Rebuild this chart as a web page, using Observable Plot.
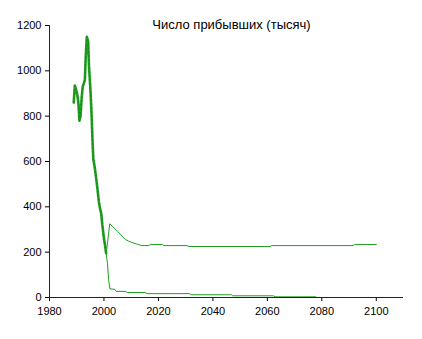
<!DOCTYPE html>
<html>
<head>
<meta charset="utf-8">
<script src="https://cdn.jsdelivr.net/npm/d3@7"></script>
<script src="https://cdn.jsdelivr.net/npm/@observablehq/plot@0.6"></script>
<style>
  html, body { margin: 0; padding: 0; background: #fff; }
  #chart svg { display: block; }
</style>
</head>
<body>
<div id="chart"></div>
<script>
const title = "Число прибывших (тысяч)";
const xTicks = [1980, 2000, 2020, 2040, 2060, 2080, 2100];
const yTicks = [0, 200, 400, 600, 800, 1000, 1200];

// Historical series (thick line)
const histYears = [1988.9, 1989.3, 1989.7, 1990.2, 1990.6, 1991.0, 1991.4, 1991.8, 1992.2, 1992.6, 1993.0, 1993.3, 1993.7, 1994.2, 1994.5, 1995.0, 1995.4, 1995.8, 1996.1, 1996.6, 1997.1, 1997.6, 1998.1, 1998.6, 1999.0, 1999.4, 2000.0, 2000.4, 2000.8];
const histValues = [860, 935, 920, 895, 860, 780, 800, 880, 930, 945, 960, 1060, 1150, 1130, 1020, 925, 825, 690, 610, 575, 530, 480, 425, 390, 370, 320, 260, 230, 195];

// Upper projection (thin line)
const upYears = [2000.8, 2001.3, 2002.1, 2003, 2004, 2005, 2006, 2007, 2008, 2009, 2010, 2011, 2012, 2013, 2014, 2016.5, 2017, 2021.5, 2022, 2030.5, 2031, 2061, 2061.5, 2091.5, 2092, 2100];
const upValues = [195, 240, 325, 315, 303, 292, 280, 266, 255, 249, 244, 240, 236, 232, 229, 229, 234, 234, 229, 229, 225, 225, 229, 229, 234, 234];

// Lower projection (thin line)
const lowYears = [2000.8, 2001.3, 2001.7, 2002.2, 2004, 2004.5, 2008, 2008.5, 2015.2, 2015.8, 2031.5, 2032, 2046.8, 2047.3, 2062.3, 2062.8, 2077.8];
const lowValues = [195, 150, 80, 38, 36, 27, 27, 22, 22, 17, 17, 12, 12, 7.5, 7.5, 3, 3];

const toRows = (xs, ys) => xs.map((x, i) => ({year: x, value: ys[i]}));
const hist = toRows(histYears, histValues);
const up = toRows(upYears, upValues);
const low = toRows(lowYears, lowValues);

const green = "#1f9e1f";
const font = "Liberation Sans, Arial, sans-serif";

const chart = Plot.plot({
  width: 422,
  height: 339,
  marginLeft: 49,
  marginRight: 19,
  marginTop: 25,
  marginBottom: 42,
  style: {fontFamily: font, fontSize: "11px", color: "#000", background: "#fff"},
  x: {domain: [1980, 2110], ticks: xTicks, tickFormat: d => String(d), tickSize: 4, tickPadding: 6, label: null},
  y: {domain: [0, 1200], ticks: yTicks, tickFormat: d => String(d), tickSize: 4, tickPadding: 4, label: null},
  marks: [
    Plot.line(up, {x: "year", y: "value", stroke: green, strokeWidth: 1}),
    Plot.line(low, {x: "year", y: "value", stroke: green, strokeWidth: 1}),
    Plot.line(hist, {x: "year", y: "value", stroke: green, strokeWidth: 2.6}),
    Plot.line(hist, {x: "year", y: "value", stroke: "#167a16", strokeWidth: 0.8, strokeDasharray: "1,3"}),
    Plot.ruleX([1980], {stroke: "#222"}),
    Plot.ruleY([0], {stroke: "#222"}),
    Plot.text([title], {frameAnchor: "top", dx: 5, dy: -1, lineAnchor: "middle", fontSize: 13, fill: "#000"})
  ]
});
document.getElementById("chart").appendChild(chart);
</script>
</body>
</html>
